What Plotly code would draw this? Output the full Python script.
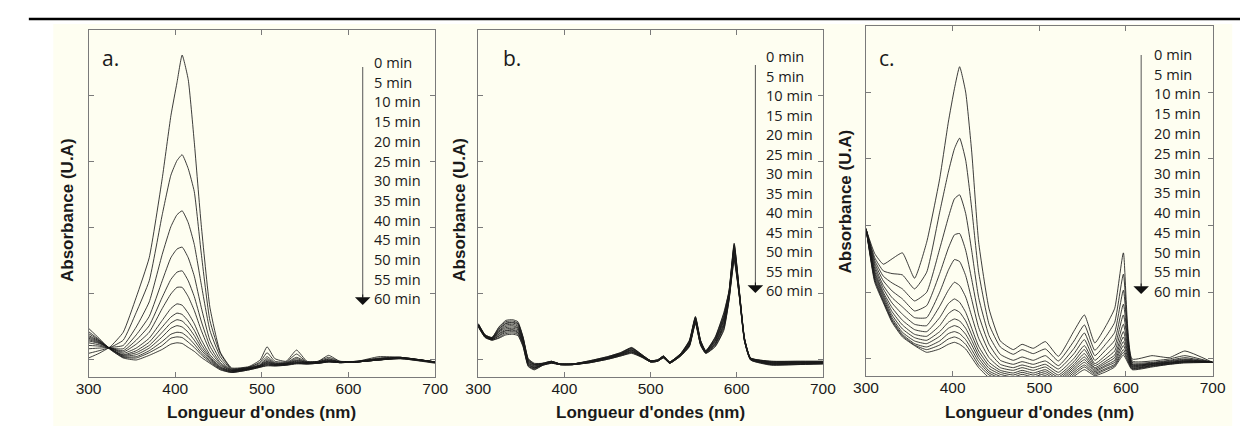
import plotly.graph_objects as go

W, H = 1248, 434

times = ["0 min", "5 min", "10 min", "15 min", "20 min", "25 min", "30 min",
         "35 min", "40 min", "45 min", "50 min", "55 min", "60 min"]
x_ticks = [300, 400, 500, 600, 700]
panel_letters = ["a.", "b.", "c."]
x_title = "Longueur d'ondes (nm)"
y_title = "Absorbance (U.A)"

# ---------------- panel a ----------------
wl_a = [300, 312, 325, 340, 355, 370, 385, 395, 402, 408, 415, 422, 430, 440, 452,
        465, 485, 498, 506, 515, 528, 540, 552, 565, 577, 590, 610, 635, 660, 700]
abs_a = [
    [0.03, 0.10, 0.20, 0.42, 0.95, 1.55, 2.75, 3.70, 4.20, 4.62, 4.25, 3.30, 2.05, 0.80, 0.12, -0.12, -0.10, 0.00, 0.20, 0.02, -0.02, 0.15, -0.02, -0.02, 0.07, -0.02, -0.02, 0.05, 0.04, -0.03],
    [0.10, 0.14, 0.19, 0.30, 0.72, 1.20, 2.20, 2.80, 3.02, 3.11, 2.90, 2.55, 1.62, 0.60, 0.10, -0.13, -0.11, -0.03, 0.11, -0.02, -0.03, 0.09, -0.03, -0.02, 0.04, -0.02, -0.02, 0.03, 0.04, -0.03],
    [0.17, 0.18, 0.19, 0.22, 0.50, 0.88, 1.60, 2.02, 2.20, 2.26, 2.08, 1.75, 1.15, 0.45, 0.05, -0.14, -0.11, -0.05, 0.05, -0.04, -0.04, 0.04, -0.03, -0.03, 0.02, -0.03, -0.02, 0.02, 0.04, -0.03],
    [0.22, 0.21, 0.18, 0.17, 0.38, 0.66, 1.20, 1.55, 1.68, 1.71, 1.55, 1.27, 0.80, 0.30, 0.00, -0.15, -0.12, -0.07, 0.02, -0.05, -0.05, 0.02, -0.04, -0.03, 0.01, -0.03, -0.02, 0.02, 0.04, -0.03],
    [0.26, 0.23, 0.18, 0.14, 0.30, 0.52, 0.95, 1.22, 1.33, 1.35, 1.20, 0.96, 0.59, 0.21, -0.04, -0.15, -0.12, -0.08, 0.00, -0.06, -0.05, 0.00, -0.04, -0.03, 0.00, -0.03, -0.03, 0.01, 0.03, -0.03],
    [0.29, 0.25, 0.18, 0.12, 0.24, 0.42, 0.78, 1.00, 1.10, 1.10, 0.96, 0.75, 0.45, 0.14, -0.06, -0.16, -0.13, -0.08, -0.02, -0.06, -0.06, -0.01, -0.04, -0.04, -0.01, -0.03, -0.03, 0.01, 0.03, -0.03],
    [0.31, 0.26, 0.18, 0.10, 0.18, 0.33, 0.60, 0.78, 0.85, 0.83, 0.71, 0.55, 0.31, 0.08, -0.08, -0.16, -0.13, -0.09, -0.03, -0.07, -0.06, -0.02, -0.05, -0.04, -0.01, -0.03, -0.03, 0.01, 0.03, -0.03],
    [0.33, 0.27, 0.17, 0.08, 0.14, 0.27, 0.50, 0.65, 0.71, 0.69, 0.59, 0.45, 0.24, 0.05, -0.10, -0.17, -0.13, -0.09, -0.04, -0.07, -0.06, -0.03, -0.05, -0.04, -0.02, -0.04, -0.03, 0.00, 0.03, -0.03],
    [0.35, 0.28, 0.17, 0.07, 0.11, 0.22, 0.42, 0.56, 0.61, 0.59, 0.50, 0.37, 0.19, 0.03, -0.11, -0.17, -0.14, -0.10, -0.05, -0.08, -0.07, -0.04, -0.05, -0.04, -0.02, -0.04, -0.03, 0.00, 0.03, -0.03],
    [0.37, 0.29, 0.17, 0.06, 0.08, 0.18, 0.35, 0.48, 0.52, 0.50, 0.42, 0.30, 0.15, 0.01, -0.12, -0.18, -0.14, -0.10, -0.06, -0.08, -0.07, -0.04, -0.05, -0.05, -0.02, -0.04, -0.03, 0.00, 0.03, -0.04],
    [0.40, 0.30, 0.17, 0.05, 0.05, 0.14, 0.28, 0.39, 0.42, 0.41, 0.34, 0.24, 0.11, -0.01, -0.13, -0.18, -0.14, -0.10, -0.07, -0.08, -0.07, -0.05, -0.06, -0.05, -0.03, -0.04, -0.03, 0.00, 0.02, -0.04],
    [0.43, 0.31, 0.16, 0.04, 0.03, 0.11, 0.22, 0.33, 0.35, 0.34, 0.27, 0.19, 0.08, -0.03, -0.14, -0.19, -0.15, -0.11, -0.08, -0.09, -0.08, -0.05, -0.06, -0.05, -0.03, -0.04, -0.03, 0.00, 0.02, -0.04],
    [0.48, 0.33, 0.16, 0.03, 0.00, 0.07, 0.16, 0.24, 0.26, 0.25, 0.19, 0.13, 0.04, -0.05, -0.15, -0.19, -0.15, -0.11, -0.09, -0.09, -0.08, -0.06, -0.06, -0.05, -0.03, -0.04, -0.03, 0.00, 0.02, -0.05],
]

# ---------------- panel b ----------------
wl_b = [300, 308, 316, 324, 332, 340, 346, 352, 358, 365, 375, 385, 395, 410, 430, 450, 465, 478, 490,
        500, 508, 515, 522, 535, 545, 552, 558, 564, 575, 585, 591, 597, 603, 609, 616, 640, 670, 700]
abs_b = [
    [0.55, 0.38, 0.34, 0.50, 0.60, 0.61, 0.58, 0.35, 0.02, -0.05, -0.05, -0.02, -0.06, -0.06, -0.01, 0.05, 0.11, 0.19, 0.08, -0.01, 0.00, 0.06, -0.03, 0.10, 0.30, 0.66, 0.30, 0.14, 0.35, 0.72, 1.05, 1.77, 1.05, 0.33, 0.03, -0.02, -0.02, -0.02],
    [0.55, 0.38, 0.34, 0.49, 0.58, 0.59, 0.56, 0.34, 0.01, -0.06, -0.05, -0.02, -0.06, -0.06, -0.01, 0.05, 0.11, 0.18, 0.08, -0.01, 0.00, 0.06, -0.03, 0.10, 0.29, 0.65, 0.29, 0.14, 0.34, 0.70, 1.04, 1.75, 1.04, 0.33, 0.03, -0.02, -0.02, -0.02],
    [0.54, 0.37, 0.33, 0.47, 0.56, 0.57, 0.55, 0.33, 0.00, -0.07, -0.05, -0.02, -0.06, -0.06, -0.02, 0.04, 0.10, 0.18, 0.07, -0.01, 0.00, 0.06, -0.03, 0.09, 0.28, 0.64, 0.29, 0.13, 0.33, 0.67, 1.03, 1.73, 1.03, 0.32, 0.03, -0.03, -0.03, -0.03],
    [0.54, 0.37, 0.33, 0.46, 0.55, 0.56, 0.53, 0.31, -0.01, -0.07, -0.06, -0.03, -0.06, -0.06, -0.02, 0.04, 0.10, 0.17, 0.07, -0.01, 0.00, 0.05, -0.03, 0.09, 0.28, 0.63, 0.28, 0.13, 0.31, 0.65, 1.01, 1.70, 1.03, 0.32, 0.02, -0.03, -0.03, -0.03],
    [0.53, 0.37, 0.33, 0.44, 0.53, 0.54, 0.51, 0.30, -0.02, -0.08, -0.06, -0.03, -0.06, -0.06, -0.02, 0.04, 0.09, 0.16, 0.07, -0.02, -0.01, 0.05, -0.04, 0.09, 0.27, 0.62, 0.27, 0.13, 0.30, 0.63, 1.00, 1.68, 1.02, 0.31, 0.02, -0.04, -0.04, -0.03],
    [0.53, 0.36, 0.32, 0.43, 0.51, 0.52, 0.49, 0.29, -0.03, -0.09, -0.06, -0.03, -0.06, -0.06, -0.02, 0.03, 0.09, 0.15, 0.06, -0.02, -0.01, 0.05, -0.04, 0.08, 0.26, 0.61, 0.27, 0.12, 0.29, 0.61, 0.99, 1.66, 1.01, 0.31, 0.02, -0.04, -0.04, -0.04],
    [0.53, 0.36, 0.32, 0.42, 0.49, 0.50, 0.48, 0.28, -0.04, -0.10, -0.06, -0.03, -0.07, -0.07, -0.03, 0.03, 0.09, 0.15, 0.06, -0.02, -0.01, 0.05, -0.04, 0.08, 0.25, 0.60, 0.26, 0.12, 0.28, 0.59, 0.98, 1.64, 1.00, 0.31, 0.02, -0.05, -0.04, -0.04],
    [0.52, 0.36, 0.32, 0.40, 0.47, 0.48, 0.46, 0.26, -0.05, -0.11, -0.07, -0.04, -0.07, -0.07, -0.03, 0.03, 0.08, 0.14, 0.06, -0.02, -0.01, 0.04, -0.04, 0.08, 0.24, 0.60, 0.25, 0.12, 0.26, 0.56, 0.96, 1.61, 0.99, 0.30, 0.01, -0.05, -0.05, -0.04],
    [0.52, 0.35, 0.31, 0.39, 0.45, 0.46, 0.44, 0.25, -0.06, -0.12, -0.07, -0.04, -0.07, -0.07, -0.03, 0.02, 0.08, 0.13, 0.05, -0.02, -0.01, 0.04, -0.04, 0.07, 0.23, 0.59, 0.25, 0.11, 0.25, 0.54, 0.95, 1.59, 0.98, 0.30, 0.01, -0.06, -0.05, -0.05],
    [0.51, 0.35, 0.31, 0.37, 0.44, 0.45, 0.42, 0.24, -0.07, -0.12, -0.07, -0.04, -0.07, -0.07, -0.03, 0.02, 0.07, 0.12, 0.05, -0.03, -0.02, 0.04, -0.05, 0.07, 0.22, 0.58, 0.24, 0.11, 0.24, 0.52, 0.94, 1.57, 0.97, 0.29, 0.01, -0.06, -0.06, -0.05],
    [0.51, 0.35, 0.31, 0.36, 0.42, 0.43, 0.41, 0.23, -0.08, -0.13, -0.07, -0.04, -0.07, -0.07, -0.04, 0.02, 0.07, 0.12, 0.05, -0.03, -0.02, 0.04, -0.05, 0.07, 0.22, 0.57, 0.23, 0.11, 0.23, 0.50, 0.93, 1.55, 0.97, 0.29, 0.01, -0.07, -0.06, -0.05],
    [0.50, 0.34, 0.30, 0.34, 0.40, 0.41, 0.39, 0.21, -0.09, -0.14, -0.08, -0.05, -0.07, -0.07, -0.04, 0.01, 0.06, 0.11, 0.04, -0.03, -0.02, 0.03, -0.05, 0.06, 0.21, 0.56, 0.23, 0.10, 0.21, 0.47, 0.91, 1.52, 0.96, 0.28, 0.00, -0.07, -0.07, -0.06],
    [0.50, 0.34, 0.30, 0.33, 0.38, 0.39, 0.37, 0.20, -0.10, -0.15, -0.08, -0.05, -0.07, -0.07, -0.04, 0.01, 0.06, 0.10, 0.04, -0.03, -0.02, 0.03, -0.05, 0.06, 0.20, 0.55, 0.22, 0.10, 0.20, 0.45, 0.90, 1.50, 0.95, 0.28, 0.00, -0.08, -0.07, -0.06],
]

# ---------------- panel c ----------------
wl_c = [300, 310, 320, 330, 342, 356, 370, 385, 395, 402, 408, 415, 422, 430, 442, 455,
        470, 480, 493, 507, 522, 540, 552, 564, 577, 587, 597, 607, 630, 650, 668, 700]
abs_c = [
    [1.95, 1.58, 1.42, 1.50, 1.59, 1.21, 1.75, 2.70, 3.55, 4.05, 4.38, 4.00, 3.10, 1.75, 0.75, 0.27, 0.14, 0.22, 0.16, 0.26, 0.04, 0.42, 0.66, 0.24, 0.50, 0.76, 1.59, 0.00, 0.05, 0.02, 0.12, -0.05],
    [1.95, 1.52, 1.32, 1.28, 1.26, 1.05, 1.30, 2.20, 2.80, 3.15, 3.31, 2.98, 2.25, 1.30, 0.52, 0.18, 0.07, 0.14, 0.08, 0.15, -0.03, 0.27, 0.51, 0.13, 0.34, 0.55, 1.27, -0.03, -0.03, 0.00, 0.05, -0.05],
    [1.95, 1.48, 1.24, 1.14, 1.05, 0.87, 1.00, 1.65, 2.12, 2.40, 2.46, 2.18, 1.62, 0.92, 0.35, 0.07, -0.02, 0.03, -0.02, 0.05, -0.10, 0.16, 0.39, 0.05, 0.23, 0.40, 1.03, -0.05, -0.05, -0.02, 0.02, -0.05],
    [1.95, 1.44, 1.17, 1.02, 0.90, 0.72, 0.80, 1.28, 1.66, 1.86, 1.88, 1.63, 1.19, 0.66, 0.22, -0.02, -0.08, -0.04, -0.08, -0.03, -0.15, 0.08, 0.29, -0.02, 0.14, 0.28, 0.82, -0.07, -0.06, -0.03, 0.00, -0.05],
    [1.95, 1.40, 1.10, 0.92, 0.78, 0.62, 0.62, 1.00, 1.33, 1.49, 1.46, 1.25, 0.89, 0.47, 0.11, -0.08, -0.13, -0.09, -0.13, -0.08, -0.20, 0.01, 0.20, -0.07, 0.06, 0.19, 0.66, -0.08, -0.07, -0.04, -0.01, -0.05],
    [1.95, 1.36, 1.05, 0.84, 0.67, 0.52, 0.50, 0.79, 1.03, 1.15, 1.10, 0.93, 0.64, 0.31, 0.02, -0.13, -0.17, -0.13, -0.17, -0.12, -0.24, -0.04, 0.14, -0.10, 0.01, 0.12, 0.52, -0.09, -0.07, -0.05, -0.02, -0.05],
    [1.95, 1.32, 1.00, 0.77, 0.58, 0.44, 0.41, 0.62, 0.83, 0.90, 0.85, 0.70, 0.46, 0.19, -0.05, -0.17, -0.21, -0.17, -0.21, -0.16, -0.27, -0.08, 0.08, -0.13, -0.03, 0.06, 0.41, -0.10, -0.08, -0.05, -0.03, -0.05],
    [1.95, 1.29, 0.97, 0.71, 0.51, 0.37, 0.34, 0.50, 0.68, 0.74, 0.70, 0.57, 0.36, 0.12, -0.10, -0.20, -0.24, -0.20, -0.24, -0.19, -0.30, -0.11, 0.03, -0.15, -0.06, 0.02, 0.33, -0.11, -0.08, -0.06, -0.03, -0.05],
    [1.95, 1.26, 0.94, 0.66, 0.45, 0.32, 0.28, 0.41, 0.55, 0.60, 0.57, 0.46, 0.28, 0.06, -0.14, -0.23, -0.27, -0.23, -0.27, -0.22, -0.33, -0.14, -0.01, -0.17, -0.09, -0.02, 0.26, -0.12, -0.09, -0.06, -0.04, -0.05],
    [1.95, 1.23, 0.91, 0.62, 0.40, 0.27, 0.23, 0.34, 0.46, 0.50, 0.47, 0.37, 0.21, 0.01, -0.18, -0.26, -0.30, -0.26, -0.30, -0.25, -0.36, -0.17, -0.05, -0.19, -0.11, -0.05, 0.20, -0.13, -0.10, -0.07, -0.04, -0.05],
    [1.95, 1.20, 0.88, 0.59, 0.37, 0.23, 0.18, 0.27, 0.38, 0.41, 0.38, 0.29, 0.14, -0.04, -0.21, -0.29, -0.33, -0.29, -0.33, -0.28, -0.39, -0.20, -0.09, -0.21, -0.14, -0.08, 0.14, -0.14, -0.10, -0.07, -0.05, -0.05],
    [1.95, 1.18, 0.86, 0.57, 0.35, 0.21, 0.14, 0.21, 0.30, 0.33, 0.30, 0.22, 0.08, -0.09, -0.24, -0.32, -0.36, -0.32, -0.36, -0.31, -0.42, -0.23, -0.12, -0.23, -0.16, -0.10, 0.10, -0.15, -0.11, -0.08, -0.05, -0.05],
    [1.95, 1.15, 0.84, 0.55, 0.33, 0.20, 0.10, 0.15, 0.22, 0.25, 0.22, 0.15, 0.02, -0.13, -0.28, -0.35, -0.39, -0.35, -0.39, -0.34, -0.45, -0.26, -0.16, -0.25, -0.19, -0.12, 0.06, -0.16, -0.12, -0.08, -0.06, -0.05],
]


def px(x):
    return x / W


def py(y):
    return 1 - y / H


CREAM = "#FEFEF1"
FRAME = "#7a7a7a"
INK = "#1a1a1a"

# panel geometry in pixels: left, right, top, bottom
panels = [
    dict(l=69, r=423, t=22, b=369, yr=[-0.258, 5.0]),
    dict(l=467, r=819, t=22, b=369, yr=[-0.258, 5.0]),
    dict(l=863, r=1217, t=18, b=368, yr=[-0.255, 4.99]),
]
datasets = [(wl_a, abs_a), (wl_b, abs_b), (wl_c, abs_c)]

fig = go.Figure()
layout = dict(
    width=W, height=H, margin=dict(l=0, r=0, t=0, b=0),
    paper_bgcolor="white", plot_bgcolor=CREAM, showlegend=False,
)

for k, (p, (wl, rows)) in enumerate(zip(panels, datasets)):
    sfx = "" if k == 0 else str(k + 1)
    for i, row in enumerate(rows):
        fig.add_trace(go.Scatter(
            x=wl, y=row, mode="lines", name=times[i],
            line=dict(color=INK, width=0.85, shape="spline", smoothing=0.45),
            xaxis="x" + sfx, yaxis="y" + sfx, hoverinfo="skip"))
    layout["xaxis" + sfx] = dict(
        domain=[px(p["l"]), px(p["r"])], anchor="y" + sfx, range=[300, 700],
        tickvals=x_ticks, ticktext=[str(v) for v in x_ticks],
        ticks="inside", ticklen=5, tickcolor=FRAME, tickwidth=1,
        showline=True, linecolor=FRAME, linewidth=1, mirror="ticks",
        showgrid=False, zeroline=False, ticklabelstandoff=-3,
        tickfont=dict(family="Liberation Sans, Arial, sans-serif", size=15.5, color=INK))
    layout["yaxis" + sfx] = dict(
        domain=[py(p["b"]), py(p["t"])], anchor="x" + sfx, range=p["yr"],
        tick0=0, dtick=1, ticks="inside", ticklen=5, tickcolor=FRAME, tickwidth=1,
        showline=True, linecolor=FRAME, linewidth=1, mirror="ticks",
        showgrid=False, zeroline=False, showticklabels=False)

fig.update_layout(**layout)

shapes = [
    dict(type="rect", xref="paper", yref="paper", x0=px(33), x1=px(1237), y0=py(418), y1=py(16),
         fillcolor=CREAM, line=dict(width=0), layer="below"),
    dict(type="line", xref="paper", yref="paper", x0=px(8), x1=1, y0=py(11), y1=py(11),
         line=dict(color="black", width=2.5)),
]

annotations = []
label_font = dict(family="Open Sans, Noto Sans, sans-serif", size=14.6, color=INK)
title_font = dict(family="Liberation Sans, Arial, sans-serif", size=17, color=INK)

legend_geo = [
    dict(lx=358, ax=349, top=59, tip=297, y0=54, dy=19.7, letter_x=81, ytitle_x=47, ytitle_y=202),
    dict(lx=759, ax=750, top=57, tip=285, y0=48, dy=19.5, letter_x=490, ytitle_x=447, ytitle_y=202),
    dict(lx=1155, ax=1144, top=47, tip=286, y0=46, dy=19.75, letter_x=874, ytitle_x=842, ytitle_y=193),
]

for k, (p, g) in enumerate(zip(panels, legend_geo)):
    for i, t in enumerate(times):
        annotations.append(dict(
            xref="paper", yref="paper", x=px(g["lx"]), y=py(g["y0"] + i * g["dy"]),
            text=t, showarrow=False, xanchor="left", yanchor="middle", font=label_font))
    # thin grey shaft of the time arrow
    shapes.append(dict(
        type="line", xref="paper", yref="paper", x0=px(g["ax"]), x1=px(g["ax"]),
        y0=py(g["top"]), y1=py(g["tip"] - 8), line=dict(color="#555555", width=1)))
    # filled black arrow head
    annotations.append(dict(
        xref="paper", yref="paper", x=px(g["ax"]), y=py(g["tip"]), text="",
        showarrow=True, axref="pixel", ayref="pixel", ax=0, ay=-12,
        arrowhead=1, arrowsize=2.6, arrowwidth=1, arrowcolor="#111111"))
    annotations.append(dict(
        xref="paper", yref="paper", x=px(g["letter_x"]), y=py(50), text=panel_letters[k],
        showarrow=False, xanchor="left", yanchor="middle",
        font=dict(family="Open Sans, Noto Sans, sans-serif", size=21, color=INK)))
    annotations.append(dict(
        xref="paper", yref="paper", x=px((p["l"] + p["r"]) / 2), y=py(404),
        text="<b>" + x_title + "</b>", showarrow=False, xanchor="center", yanchor="middle",
        font=title_font))
    annotations.append(dict(
        xref="paper", yref="paper", x=px(g["ytitle_x"]), y=py(g["ytitle_y"]),
        text="<b>" + y_title + "</b>", showarrow=False, textangle=-90,
        xanchor="center", yanchor="middle", font=title_font))

fig.update_layout(shapes=shapes, annotations=annotations)

fig.write_html("out.html")
